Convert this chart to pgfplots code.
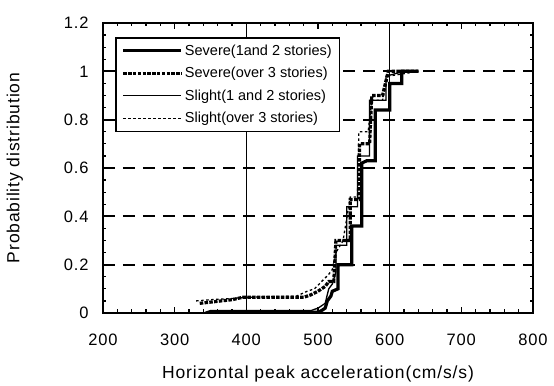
\documentclass[border=0pt]{standalone}
\usepackage{fontspec}
\setmainfont{Liberation Sans}
\newfontfamily\labfont[LetterSpace=5]{Liberation Sans}
\usepackage{pgfplots}
\pgfplotsset{compat=1.18}
\begin{document}
\begin{tikzpicture}
\begin{axis}[
  scale only axis, width=430pt, height=290pt,
  xmin=200, xmax=800, ymin=0, ymax=1.2,
  xtick={200,300,400,500,600,700,800}, ytick={0,0.2,0.4,0.6,0.8,1,1.2},
  yticklabels={0,0.2,0.4,0.6,0.8,1,1.2},
  minor x tick num=4, minor y tick num=3,
  tick align=inside, xtick pos=both, ytick pos=both,
  major tick length=6pt, minor tick length=3.5pt,
  every tick/.style={black, line width=1.2pt},
  axis line style={line width=2pt},
  /pgf/number format/assume math mode=true,
  ticklabel style={font=\labfont\fontsize{16.5}{18}\selectfont},
  xticklabel style={yshift=-17pt},
  yticklabel style={xshift=-11pt},
  ymajorgrids, major grid style={dash pattern=on 12pt off 8pt, line width=2pt, black},
  extra x ticks={400,600}, extra x tick labels={},
  extra x tick style={grid=major, major grid style={solid, line width=1pt, black}},
  xlabel={Horizontal peak acceleration(cm/s/s)},
  ylabel={Probability distribution},
  label style={font=\labfont\fontsize{17.5}{19}\selectfont},
  xlabel style={at={(axis description cs:0.5,-0.21)}, anchor=center},
  ylabel style={at={(axis description cs:-0.205,0.5)}, anchor=center},
  legend style={at={(12/430,1-14/290)}, anchor=north west, draw=black, line width=1.6pt,
    font=\fontsize{14.5}{16}\selectfont, fill=white, row sep=6.5pt, inner xsep=6pt, inner ysep=5pt},
  legend cell align=left,
  legend image code/.code={\draw[#1] (0pt,0pt) -- (58pt,0pt);},
]
\addplot[black, line width=3.2pt, line join=miter] coordinates {
(345,0) (350,0.003) (500,0.003) (505,0.01) (510,0.02) (513,0.05) (518,0.07) (520,0.09) (528,0.1) (528,0.2) (547,0.2) (547,0.36) (561,0.36) (561,0.62) (568,0.63) (580,0.63) (580,0.84) (600,0.84) (600,0.95) (617,0.95) (617,1.0) (640,1.0)};
\addlegendentry{Severe(1and 2 stories)}
\addplot[black, line width=3.2pt, dash pattern=on 3.5pt off 1.3pt] coordinates {
(335,0.04) (350,0.045) (365,0.05) (380,0.055) (395,0.065) (480,0.065) (490,0.075) (500,0.09) (510,0.11) (515,0.13) (522,0.13) (525,0.3) (545,0.3) (545,0.47) (558,0.47) (558,0.7) (572,0.7) (575,0.9) (590,0.9) (598,1.0) (640,1.0)};
\addlegendentry{Severe(over 3 stories)}
\addplot[black, line width=1.3pt] coordinates {
(340,0) (350,0.01) (490,0.01) (500,0.02) (510,0.04) (515,0.1) (520,0.12) (525,0.17) (525,0.28) (540,0.28) (540,0.44) (555,0.44) (555,0.65) (572,0.65) (572,0.88) (595,0.88) (595,0.98) (620,1.0) (640,1.0)};
\addlegendentry{Slight(1 and 2 stories)}
\addplot[black, line width=1.3pt, dash pattern=on 2.5pt off 2.5pt] coordinates {
(330,0.05) (350,0.055) (380,0.06) (400,0.065) (470,0.07) (485,0.09) (495,0.1) (505,0.13) (515,0.16) (520,0.18) (525,0.25) (535,0.3) (545,0.48) (555,0.48) (557,0.75) (570,0.75) (575,0.88) (590,0.88) (598,0.98) (640,1.0)};
\addlegendentry{Slight(over 3 stories)}
\end{axis}
\path[use as bounding box] (-103pt,-69pt) rectangle (451pt,313pt);
\end{tikzpicture}
\end{document}
